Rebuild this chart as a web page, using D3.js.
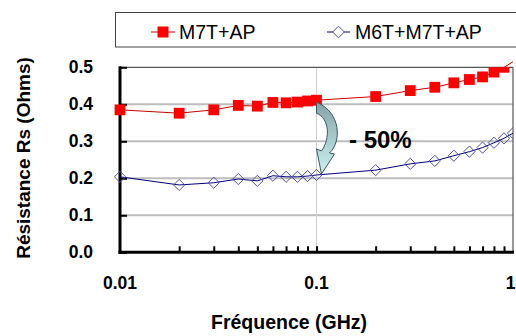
<!DOCTYPE html>
<html><head><meta charset="utf-8">
<script src="https://cdn.jsdelivr.net/npm/d3@7"></script>
<style>
html,body{margin:0;padding:0;background:#fff;}
svg{display:block;font-family:"Liberation Sans",Arial,sans-serif;}
</style></head>
<body>
<svg id="c" width="516" height="336"></svg>
<script>
const freq = [0.01,0.02,0.03,0.04,0.05,0.06,0.07,0.08,0.09,0.1,0.2,0.3,0.4,0.5,0.6,0.7,0.8,0.9,1.0];
const rsM7T = [0.385,0.376,0.385,0.397,0.395,0.405,0.404,0.406,0.409,0.411,0.421,0.437,0.446,0.458,0.467,0.474,0.487,0.500,0.515];
const rsM6T = [0.204,0.182,0.188,0.198,0.193,0.207,0.204,0.204,0.206,0.209,0.222,0.239,0.247,0.261,0.272,0.283,0.296,0.308,0.322];
const seriesNames = ["M7T+AP","M6T+M7T+AP"];
const yTicks = [0.0,0.1,0.2,0.3,0.4,0.5];
const xTicks = [0.01,0.1,1];
const xLabels = ["0.01","0.1","1"];
const minorTicks = [0.02,0.03,0.04,0.05,0.06,0.07,0.08,0.09,0.1,0.2,0.3,0.4,0.5,0.6,0.7,0.8,0.9];
const annotation = "- 50%";

const svg = d3.select("#c");
const L=120, R=513, T=67.3, B=252.3;
const x = d3.scaleLog().domain([0.01,1]).range([L,R]);
const y = d3.scaleLinear().domain([0,0.5]).range([B,T]);

// gridlines
svg.append("g").selectAll("line").data(yTicks.filter(v=>v>0&&v<0.5)).join("line")
  .attr("x1",L).attr("x2",R).attr("y1",d=>y(d)).attr("y2",d=>y(d))
  .attr("stroke","#bdbdbd").attr("stroke-width",2);
svg.append("line").attr("x1",x(0.1)).attr("x2",x(0.1)).attr("y1",T).attr("y2",B)
  .attr("stroke","#cfcfcf").attr("stroke-width",1);
// top/right border
svg.append("line").attr("x1",L).attr("x2",R).attr("y1",T).attr("y2",T).attr("stroke","#555").attr("stroke-width",1.2);
svg.append("line").attr("x1",R).attr("x2",R).attr("y1",T).attr("y2",B).attr("stroke","#555").attr("stroke-width",1.2);

// axes
const yAxis = d3.axisLeft(y).tickValues(yTicks).tickFormat(d3.format(".1f")).tickSize(-7).tickPadding(27);
const gy = svg.append("g").attr("transform",`translate(${L},0)`).call(yAxis);
gy.select(".domain").remove();
gy.selectAll(".tick line").attr("stroke","#000").attr("stroke-width",2);
gy.selectAll("text").attr("font-size","17.5px").attr("font-weight","bold").attr("fill","#000");

const xAxis = d3.axisBottom(x).tickValues(minorTicks).tickFormat("").tickSize(-6);
const gx = svg.append("g").attr("transform",`translate(0,${B})`).call(xAxis);
gx.select(".domain").remove();
gx.selectAll(".tick line").attr("stroke","#000").attr("stroke-width",2);
svg.append("g").selectAll("text").data(xTicks).join("text")
  .attr("x",(d,i)=>Math.min(x(d),510.5)).attr("y",B+37).attr("text-anchor","middle")
  .attr("font-size","17.5px").attr("font-weight","bold").text((d,i)=>xLabels[i]);

svg.append("line").attr("x1",L).attr("x2",L).attr("y1",T-1).attr("y2",B+1.5).attr("stroke","#000").attr("stroke-width",3);
svg.append("line").attr("x1",L-1.5).attr("x2",R+1).attr("y1",B).attr("y2",B).attr("stroke","#000").attr("stroke-width",3);

// clip for markers
svg.append("clipPath").attr("id","pc").append("rect").attr("x",L-8).attr("y",T).attr("width",R-L+8).attr("height",B-T+8);

// lines
const line = d3.line().x((d,i)=>x(freq[i])).y(d=>y(d));
svg.append("path").attr("d",line(rsM6T)).attr("fill","none").attr("stroke","#000080").attr("stroke-width",1);
svg.append("path").attr("d",line(rsM7T)).attr("fill","none").attr("stroke","#cc0000").attr("stroke-width",1);

const diamond = (cx,cy,r)=>`M${cx},${cy-r}L${cx+r},${cy}L${cx},${cy+r}L${cx-r},${cy}Z`;
const gm = svg.append("g").attr("clip-path","url(#pc)");
gm.selectAll("path.d").data(rsM6T).join("path").attr("class","d")
  .attr("d",(d,i)=>diamond(x(freq[i]),y(d),5.6))
  .attr("fill","none").attr("stroke","#5050a0").attr("stroke-width",1);
gm.selectAll("rect.s").data(rsM7T).join("rect").attr("class","s")
  .attr("x",(d,i)=>x(freq[i])-5.4).attr("y",d=>y(d)-5.4).attr("width",10.8).attr("height",10.8)
  .attr("fill","#ff0000");

// curved arrow
const defs = svg.append("defs");
const gr = defs.append("linearGradient").attr("id","ag").attr("x1",0).attr("y1",0).attr("x2",0).attr("y2",1);
gr.append("stop").attr("offset","0%").attr("stop-color","#86a2a8");
gr.append("stop").attr("offset","100%").attr("stop-color","#c9f3f3");
const ax0 = x(0.1), ayTop = y(rsM7T[9])+2, ayBot = y(rsM6T[9]);
svg.append("path")
  .attr("d",`M${ax0},${ayTop} C${ax0+25},${ayTop+10} ${ax0+25},${ayTop+40} ${ax0+13},${ayBot-22}
    L${ax0+18},${ayBot-21} L${ax0+5},${ayBot-1} L${ax0},${ayBot-26} L${ax0+5},${ayBot-24}
    C${ax0+14},${ayTop+36} ${ax0+13},${ayTop+16} ${ax0},${ayTop+11} Z`)
  .attr("fill","url(#ag)").attr("stroke","#3c5a5a").attr("stroke-width",1);

svg.append("text").attr("x",349).attr("y",148).attr("font-size","24px").attr("font-weight","bold").text(annotation);

// axis titles
svg.append("text").attr("transform","translate(30,158) rotate(-90)").attr("text-anchor","middle")
  .attr("font-size","19px").attr("font-weight","bold").text("Résistance Rs (Ohms)");
svg.append("text").attr("x",289).attr("y",329).attr("text-anchor","middle")
  .attr("font-size","19.5px").attr("font-weight","bold").text("Fréquence (GHz)");

// legend
const lg = svg.append("g");
lg.append("rect").attr("x",115.5).attr("y",12.5).attr("width",420).attr("height",34.5).attr("fill","#fff").attr("stroke","#444").attr("stroke-width",1);
lg.append("line").attr("x1",151).attr("x2",175).attr("y1",32).attr("y2",32).attr("stroke","#cc0000");
lg.append("rect").attr("x",157.5).attr("y",26.5).attr("width",11).attr("height",11).attr("fill","#ff0000");
lg.append("text").attr("x",179).attr("y",39).attr("font-size","19.5px").text(seriesNames[0]);
lg.append("line").attr("x1",327).attr("x2",350).attr("y1",32).attr("y2",32).attr("stroke","#000080");
lg.append("path").attr("d",diamond(338.5,32,5.8)).attr("fill","#fff").attr("stroke","#5050a0");
lg.append("text").attr("x",355).attr("y",39).attr("font-size","19.5px").text(seriesNames[1]);
</script>
</body></html>
